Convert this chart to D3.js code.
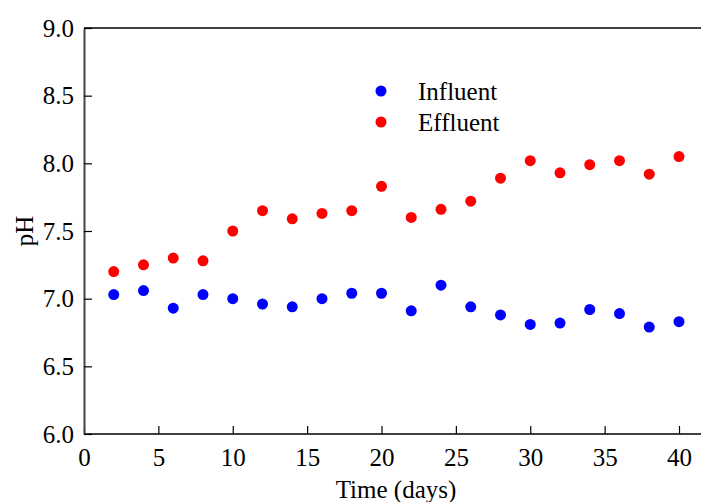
<!DOCTYPE html>
<html>
<head>
    <meta charset="utf-8">
    <title>pH</title>
    <style>
        body { margin: 0; background: #fff; }
        text { font-family: "Liberation Serif", "Times New Roman", serif; }
    </style>
</head>
<body>
    <script src="https://cdn.jsdelivr.net/npm/d3@7/dist/d3.min.js"></script>
    <script>
        var width = 701, height = 502;

        // data
        const days = [2, 4, 6, 8, 10, 12, 14, 16, 18, 20, 22, 24, 26, 28, 30, 32, 34, 36, 38, 40];
        const influent = [7.03, 7.06, 6.93, 7.03, 7.00, 6.96, 6.94, 7.00, 7.04, 7.04,
                          6.91, 7.10, 6.94, 6.88, 6.81, 6.82, 6.92, 6.89, 6.79, 6.83];
        const effluent = [7.20, 7.25, 7.30, 7.28, 7.50, 7.65, 7.59, 7.63, 7.65, 7.83,
                          7.60, 7.66, 7.72, 7.89, 8.02, 7.93, 7.99, 8.02, 7.92, 8.05];
        const xTicks = [0, 5, 10, 15, 20, 25, 30, 35, 40];
        const yTicks = [6.0, 6.5, 7.0, 7.5, 8.0, 8.5, 9.0];
        const seriesNames = ["Influent", "Effluent"];
        const seriesColors = ["#0000ff", "#ff0000"];

        var svg = d3.select("body").append("svg")
            .attr("width", width)
            .attr("height", height);

        var plotLeft = 84, plotTop = 28, plotBottom = 434;

        const x = d3.scaleLinear().domain([0, 40]).range([plotLeft, 679]);
        const y = d3.scaleLinear().domain([6, 9]).range([plotBottom, plotTop]);

        // top frame line
        svg.append("line")
            .attr("x1", plotLeft).attr("x2", width)
            .attr("y1", plotTop).attr("y2", plotTop)
            .attr("stroke", "#000").attr("stroke-width", 1.5);

        // bottom axis
        var xAxis = svg.append("g")
            .attr("transform", "translate(0," + plotBottom + ")")
            .call(d3.axisBottom(x).tickValues(xTicks).tickSizeInner(-8).tickSizeOuter(0).tickPadding(14));
        xAxis.select(".domain").remove();
        xAxis.append("line")
            .attr("x1", plotLeft).attr("x2", width)
            .attr("stroke", "#000").attr("stroke-width", 1.5);
        xAxis.selectAll(".tick line").attr("stroke-width", 1.2);
        xAxis.selectAll("text")
            .attr("font-size", "25px")
            .attr("fill", "#000")
            .style("font-family", "Liberation Serif, serif");

        // left axis
        var yAxis = svg.append("g")
            .attr("transform", "translate(" + plotLeft + ",0)")
            .call(d3.axisLeft(y).tickValues(yTicks).tickFormat(d3.format(".1f"))
                .tickSizeInner(-8).tickSizeOuter(0).tickPadding(10));
        yAxis.select(".domain").attr("stroke", "#444").attr("stroke-width", 2);
        yAxis.selectAll(".tick line").attr("stroke-width", 1.2);
        yAxis.selectAll("text")
            .attr("font-size", "25px")
            .attr("fill", "#000")
            .style("font-family", "Liberation Serif, serif");

        // axis titles
        svg.append("text")
            .attr("x", 396)
            .attr("y", 498)
            .attr("text-anchor", "middle")
            .attr("font-size", "25px")
            .text("Time (days)");

        svg.append("text")
            .attr("transform", "translate(33," + ((plotTop + plotBottom) / 2) + ") rotate(-90)")
            .attr("text-anchor", "middle")
            .attr("font-size", "25px")
            .text("pH");

        // points
        [influent, effluent].forEach(function (vals, k) {
            svg.append("g").selectAll("circle")
                .data(vals)
                .enter()
                .append("circle")
                .attr("cx", (d, i) => x(days[i]))
                .attr("cy", d => y(d))
                .attr("r", 5.5)
                .attr("fill", seriesColors[k]);
        });

        // legend
        var legend = svg.append("g");
        seriesNames.forEach(function (name, k) {
            var ly = 91 + k * 31;
            legend.append("circle")
                .attr("cx", 381).attr("cy", ly).attr("r", 5.5)
                .attr("fill", seriesColors[k]);
            legend.append("text")
                .attr("x", 418).attr("y", ly + 9)
                .attr("font-size", "25px")
                .text(name);
        });
    </script>
</body>
</html>
